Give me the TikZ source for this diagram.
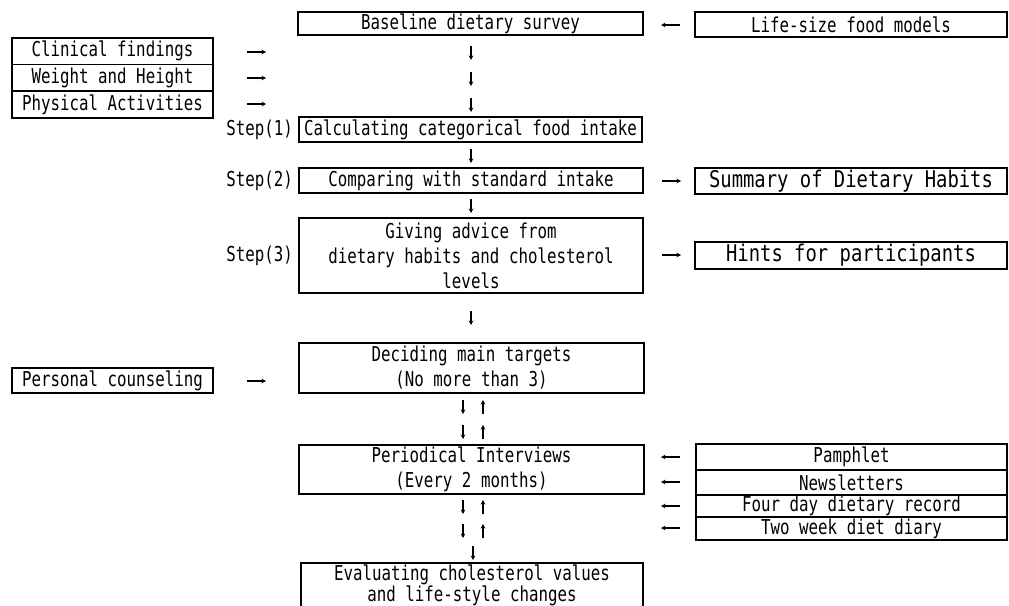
\documentclass[tikz,border=0pt]{standalone}
\usepackage{fontspec}
\setmainfont{DejaVu Sans Mono}[FakeStretch=0.77]
\newfontfamily\bigfnt{DejaVu Sans Mono}[FakeStretch=0.82]
\usetikzlibrary{arrows.meta}
\begin{document}
\begin{tikzpicture}[x=1pt,y=-1pt,
  box/.style={draw,line width=1.4pt,inner sep=0pt,align=center,font=\fontsize{20.5}{25}\selectfont},
  thickbox/.style={draw,line width=2.6pt,inner sep=0pt,align=center,font=\bigfnt\fontsize{23}{26}\selectfont},
  lbl/.style={inner sep=0pt,font=\fontsize{20.5}{25}\selectfont},
  garr/.style={line width=1.3pt,-{Stealth[length=4.5pt,width=4.5pt]}}]
\useasboundingbox (0,0) rectangle (1009,605);
\newcommand{\bx}[6][box]{\node[#1,minimum width={#4-#2},minimum height={#5-#3}] (#6) at ({(#2+#4)/2},{(#3+#5)/2})}
\bx{298}{12}{643}{35}{base} {Baseline dietary survey};
\bx{695}{12}{1007}{37}{life} {Life-size food models};
\bx{12}{38}{213}{64.5}{clin} {Clinical findings};
\bx{12}{64.5}{213}{91}{wh} {Weight and Height};
\bx{12}{91}{213}{118}{phys} {Physical Activities};
\bx{299}{117}{642}{142}{calc} {Calculating categorical food intake};
\bx{299}{168}{643}{193}{comp} {Comparing with standard intake};
\bx{299}{218}{643}{293}{adv} {Giving advice from\\dietary habits and cholesterol\\levels};
\bx[thickbox]{695}{168}{1007}{194}{summ} {Summary of Dietary Habits};
\bx[thickbox]{695}{242}{1007}{269}{hint} {Hints for participants};
\bx{12}{368}{213}{393}{pers} {Personal counseling};
\bx{299}{343}{644}{393}{dec} {Deciding main targets\\(No more than 3)};
\bx{299}{445}{644}{494}{per} {Periodical Interviews\\(Every 2 months)};
\bx{696}{444}{1007}{470}{pam} {Pamphlet};
\bx{696}{470}{1007}{495}{news} {Newsletters};
\bx{696}{495}{1007}{517}{four} {Four day dietary record};
\bx{696}{517}{1007}{540}{two} {Two week diet diary};
% last box runs off the page's lower edge
\draw[line width=1.4pt] (301,612) |- (643,563) -- (643,612);
\node[lbl,align=center,font=\fontsize{20.5}{21}\selectfont] (eval) at (472,585.5) {Evaluating cholesterol values\\and life-style changes};
\node[lbl,anchor=east] (s1) at (293,130) {Step(1)};
\node[lbl,anchor=east] (s2) at (293,181) {Step(2)};
\node[lbl,anchor=east] (s3) at (293,256) {Step(3)};
% glyph-like arrows
\draw[garr] (680,25) -- (661,25);
\foreach \y in {52,78,104} {\draw[garr] (247,\y) -- (266,\y);}
\foreach \y in {53,79,105,156,206,318} {\draw[garr] (471,\y-7) -- (471,\y+7);}
\draw[garr] (662,181) -- (681,181);
\draw[garr] (662,255) -- (681,255);
\draw[garr] (247,381) -- (266,381);
\foreach \y in {407,432,507,531} {
  \draw[garr] (463,\y-7) -- (463,\y+7);
  \draw[garr] (483,\y+7) -- (483,\y-7);}
\foreach \y in {457,482,506,528} {\draw[garr] (680,\y) -- (661,\y);}
\draw[garr] (473,546) -- (473,560);
\end{tikzpicture}
\end{document}
